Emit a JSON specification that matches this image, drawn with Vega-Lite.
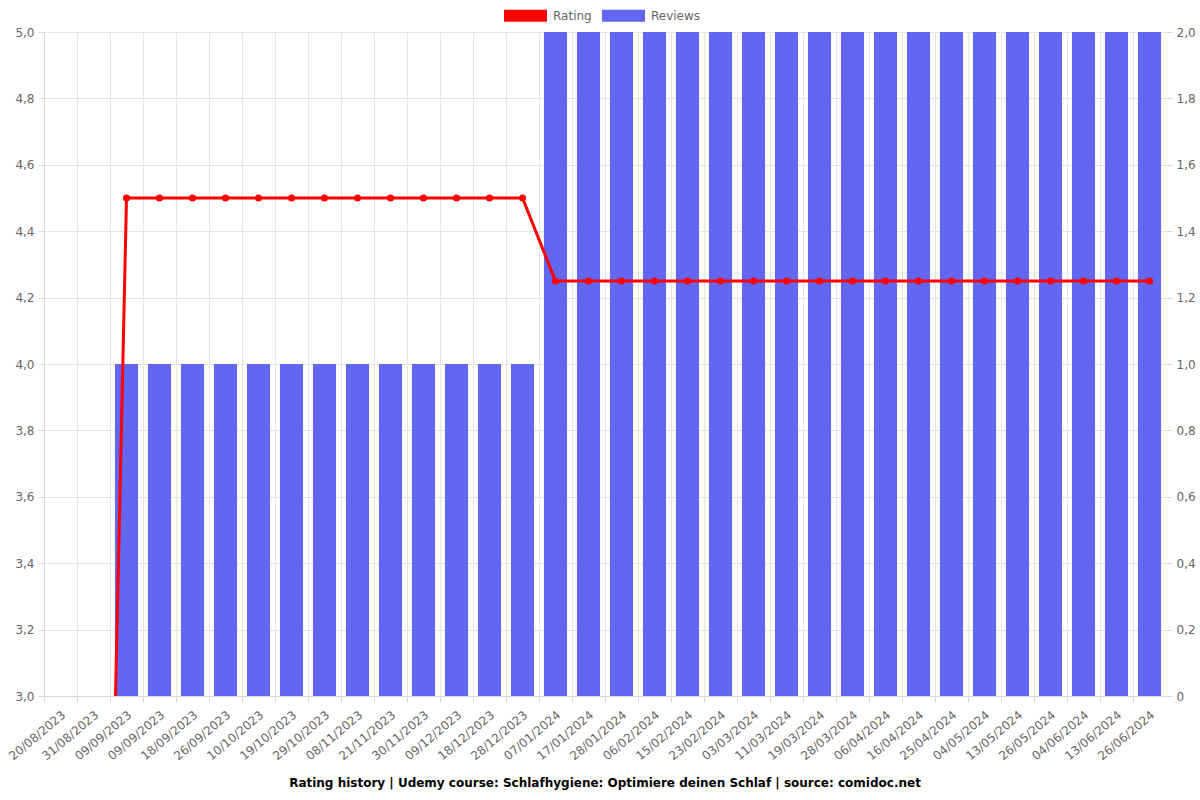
{
  "$schema": "https://vega.github.io/schema/vega-lite/v6.json",
  "width": 1122,
  "height": 664,
  "autosize": {"type": "none"},
  "padding": {"left": 44, "top": 32, "right": 34, "bottom": 104},
  "background": "white",
  "config": {
    "font": "DejaVu Sans",
    "view": {"stroke": null},
    "axis": {"labelFont": "DejaVu Sans", "labelFontSize": 12, "labelColor": "#666666", "domainColor": "#d9d9d9", "tickColor": "#d9d9d9", "gridColor": "#e5e5e5", "labelOverlap": false}
  },
  "title": {
    "text": "Rating history | Udemy course: Schlafhygiene: Optimiere deinen Schlaf | source: comidoc.net",
    "orient": "bottom",
    "anchor": "middle",
    "fontSize": 12,
    "fontWeight": "bold",
    "font": "DejaVu Sans",
    "color": "#000000",
    "offset": 16
  },
  "data": {
    "values": [
      {"i": 0, "rating": 0, "reviews": 0},
      {"i": 1, "rating": 0, "reviews": 0},
      {"i": 2, "rating": 4.5, "reviews": 1},
      {"i": 3, "rating": 4.5, "reviews": 1},
      {"i": 4, "rating": 4.5, "reviews": 1},
      {"i": 5, "rating": 4.5, "reviews": 1},
      {"i": 6, "rating": 4.5, "reviews": 1},
      {"i": 7, "rating": 4.5, "reviews": 1},
      {"i": 8, "rating": 4.5, "reviews": 1},
      {"i": 9, "rating": 4.5, "reviews": 1},
      {"i": 10, "rating": 4.5, "reviews": 1},
      {"i": 11, "rating": 4.5, "reviews": 1},
      {"i": 12, "rating": 4.5, "reviews": 1},
      {"i": 13, "rating": 4.5, "reviews": 1},
      {"i": 14, "rating": 4.5, "reviews": 1},
      {"i": 15, "rating": 4.25, "reviews": 2},
      {"i": 16, "rating": 4.25, "reviews": 2},
      {"i": 17, "rating": 4.25, "reviews": 2},
      {"i": 18, "rating": 4.25, "reviews": 2},
      {"i": 19, "rating": 4.25, "reviews": 2},
      {"i": 20, "rating": 4.25, "reviews": 2},
      {"i": 21, "rating": 4.25, "reviews": 2},
      {"i": 22, "rating": 4.25, "reviews": 2},
      {"i": 23, "rating": 4.25, "reviews": 2},
      {"i": 24, "rating": 4.25, "reviews": 2},
      {"i": 25, "rating": 4.25, "reviews": 2},
      {"i": 26, "rating": 4.25, "reviews": 2},
      {"i": 27, "rating": 4.25, "reviews": 2},
      {"i": 28, "rating": 4.25, "reviews": 2},
      {"i": 29, "rating": 4.25, "reviews": 2},
      {"i": 30, "rating": 4.25, "reviews": 2},
      {"i": 31, "rating": 4.25, "reviews": 2},
      {"i": 32, "rating": 4.25, "reviews": 2},
      {"i": 33, "rating": 4.25, "reviews": 2}
    ]
  },
  "encoding": {
    "x": {"field": "i", "type": "ordinal", "scale": {"paddingInner": 0, "paddingOuter": 0}}
  },
  "layer": [
    {
      "mark": {"type": "bar", "width": {"band": 0.7}, "fill": "#6366f1", "strokeWidth": 0},
      "encoding": {
        "x": {"field": "i", "type": "ordinal", "axis": {"orient": "bottom", "title": null, "labels": false, "bandPosition": 0, "grid": true, "ticks": true, "tickSize": 6, "domain": true}},
        "y": {"field": "reviews", "type": "quantitative", "scale": {"domain": [0, 2], "nice": false}, "axis": {"orient": "right", "title": null, "grid": false, "values": [0, 0.2, 0.4, 0.6, 0.8, 1, 1.2, 1.4, 1.6, 1.8, 2], "labelExpr": "datum.value == 0 ? '0' : replace(format(datum.value, '.1f'), '.', ',')", "domain": false, "tickSize": 6, "labelPadding": 4}},
        "color": {"datum": "Reviews", "type": "nominal", "scale": {"domain": ["Rating", "Reviews"], "range": ["#ff0000", "#6366f1"]},
          "legend": {"title": null, "orient": "none", "direction": "horizontal", "legendX": 460, "legendY": -38, "symbolType": "M-1,-0.28H1V0.28H-1Z", "symbolSize": 1849, "symbolStrokeWidth": 0, "labelFontSize": 12, "labelColor": "#666666", "labelFont": "DejaVu Sans", "columnPadding": 10, "labelOffset": 6,
            "encode": {"symbols": {"update": {"fill": {"scale": "color", "field": "value"}, "stroke": {"value": "transparent"}, "opacity": {"value": 1}}}}}
        }
      }
    },
    {
      "mark": {"type": "line", "stroke": "#ff0000", "strokeWidth": 3, "clip": true, "point": {"filled": true, "fill": "#ff0000", "size": 50}},
      "encoding": {
        "x": {"field": "i", "type": "ordinal", "axis": {"orient": "bottom", "title": null, "grid": false, "ticks": false, "domain": false, "labelAngle": -40, "labelPadding": 13, "labelExpr": "['20/08/2023','31/08/2023','09/09/2023','09/09/2023','18/09/2023','26/09/2023','10/10/2023','19/10/2023','29/10/2023','08/11/2023','21/11/2023','30/11/2023','09/12/2023','18/12/2023','28/12/2023','07/01/2024','17/01/2024','28/01/2024','06/02/2024','15/02/2024','23/02/2024','03/03/2024','11/03/2024','19/03/2024','28/03/2024','06/04/2024','16/04/2024','25/04/2024','04/05/2024','13/05/2024','26/05/2024','04/06/2024','13/06/2024','26/06/2024'][datum.value]"}},
        "y": {"field": "rating", "type": "quantitative", "scale": {"domain": [3, 5], "nice": false, "zero": false}, "axis": {"orient": "left", "title": null, "grid": true, "values": [3, 3.2, 3.4, 3.6, 3.8, 4, 4.2, 4.4, 4.6, 4.8, 5], "labelExpr": "replace(format(datum.value, '.1f'), '.', ',')", "domain": true, "tickSize": 6, "labelPadding": 4}},
        "color": {"datum": "Rating", "type": "nominal"}
      }
    }
  ],
  "resolve": {"scale": {"y": "independent"}, "axis": {"x": "independent"}}
}
